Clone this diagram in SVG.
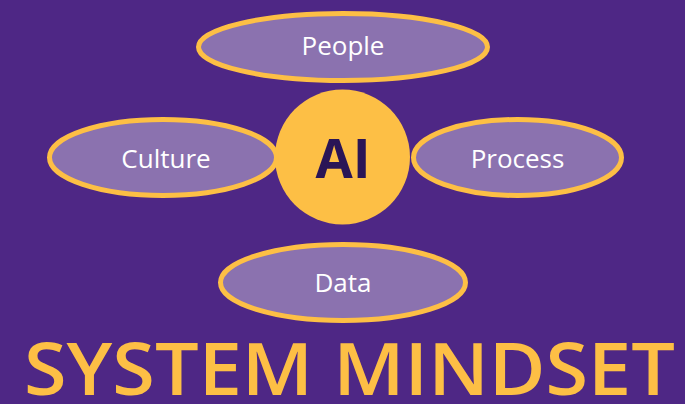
<svg xmlns="http://www.w3.org/2000/svg" width="685" height="404" viewBox="0 0 685 404">
<defs>
<style>
.ell{fill:#ffffff;fill-opacity:0.35;stroke:#fdbf45;stroke-width:5}
.lbl{font-family:"Open Sans","Liberation Sans",sans-serif;font-size:26px;fill:#ffffff;text-anchor:middle}
</style>
</defs>
<rect width="685" height="404" fill="#4e2785"/>
<g id="connectors"></g>
<g id="ai">
<circle cx="342.5" cy="157" r="67.5" fill="#fdbf45"/>
<text x="343" y="178" text-anchor="middle" font-family="'Open Sans','Liberation Sans',sans-serif" font-weight="700" font-size="54" fill="#2a1556">AI</text>
</g>
<g id="people">
<ellipse class="ell" cx="343" cy="47" rx="144.5" ry="33.5"/>
<text class="lbl" x="343" y="55">People</text>
</g>
<g id="culture">
<ellipse class="ell" cx="163" cy="157.5" rx="113.5" ry="38"/>
<text class="lbl" x="166" y="168">Culture</text>
</g>
<g id="process">
<ellipse class="ell" cx="517.5" cy="157.5" rx="104" ry="38"/>
<text class="lbl" x="517.5" y="168">Process</text>
</g>
<g id="data">
<ellipse class="ell" cx="343" cy="282.5" rx="122.5" ry="38"/>
<text class="lbl" x="343" y="292">Data</text>
</g>
<g id="title">
<text x="24" y="395" textLength="651" lengthAdjust="spacingAndGlyphs" font-family="'Open Sans','Liberation Sans',sans-serif" font-weight="600" font-size="72" fill="#fdbf45">SYSTEM MINDSET</text>
</g>
</svg>
